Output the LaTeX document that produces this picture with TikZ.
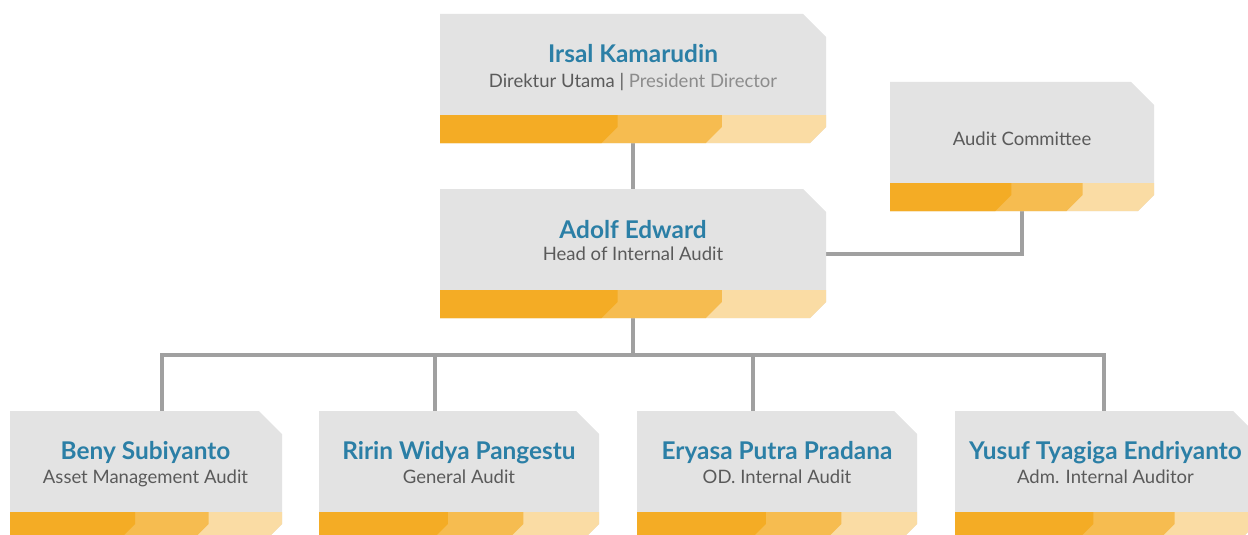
\documentclass[tikz,border=0pt]{standalone}
\usepackage{fontspec}
\setmainfont{Lato}
\definecolor{boxgray}{HTML}{E3E3E3}
\definecolor{ordark}{HTML}{F4AC25}
\definecolor{ormid}{HTML}{F6BC50}
\definecolor{orlight}{HTML}{FADCA4}
\definecolor{nameblue}{HTML}{2B7FA6}
\definecolor{subgray}{HTML}{5A5A5A}
\definecolor{lightsub}{HTML}{8C8C8C}
\definecolor{linegray}{HTML}{A0A0A0}
\newcommand\orgshape[4]{%
  \pgfmathsetmacro\xa{#1}\pgfmathsetmacro\ya{#2}%
  \pgfmathsetmacro\xb{#3}\pgfmathsetmacro\yb{#4}%
  \pgfmathsetmacro\xd{#1+0.46*(#3-#1)}%
  \pgfmathsetmacro\xm{#1+0.73*(#3-#1)}%
  \pgfmathsetmacro\yt{#4-28}%
  \fill[boxgray] (\xa,\ya) -- (\xb-23,\ya) -- (\xb,\ya+23) -- (\xb,\yb-16) -- (\xb-16,\yb) -- (\xa,\yb) -- cycle;
  \fill[orlight] (\xa,\yt) -- (\xb,\yt) -- (\xb,\yb-16) -- (\xb-16,\yb) -- (\xa,\yb) -- cycle;
  \fill[ormid] (\xa,\yt) -- (\xm,\yt) -- (\xm,\yb-16) -- (\xm-16,\yb) -- (\xa,\yb) -- cycle;
  \fill[ordark] (\xa,\yt) -- (\xd,\yt) -- (\xd,\yb-16) -- (\xd-16,\yb) -- (\xa,\yb) -- cycle;
}
\tikzset{
  area/.style={inner sep=0pt, outer sep=0pt, minimum width=#1, minimum height=129pt},
  nametext/.style={anchor=base, inner sep=0pt, text=nameblue, font=\fontsize{24.4}{28}\selectfont\bfseries},
  subtext/.style={anchor=base, inner sep=0pt, text=subgray, font=\fontsize{18.5}{22}\selectfont},
  conn/.style={draw=linegray, line width=4pt}
}
\begin{document}
\begin{tikzpicture}[x=1pt,y=-1pt]
\useasboundingbox (0,0) rectangle (1248,535);
\begin{scope}
\clip (0,0) rectangle (1248,535);
% placeholder nodes spanning the boxes
\node[area=386pt] (pd) at (633,78.5) {};
\node[area=386pt] (hia) at (633,253.5) {};
\node[area=264pt] (ac) at (1022,146.5) {};
\node[area=272pt] (b1) at (145.5,475.5) {};
\node[area=280pt] (b2) at (459,475.5) {};
\node[area=280pt] (b3) at (777,475.5) {};
\node[area=301pt] (b4) at (1105.5,475.5) {};
\coordinate (bar) at (633,355);
\coordinate (j1) at (162,355);
\coordinate (j2) at (435,355);
\coordinate (j3) at (753,355);
\coordinate (j4) at (1104,355);
% connectors
\draw[conn] (pd.south) -- (hia.north);
\draw[conn] (hia.south) -- (bar);
\draw[conn] (j1 |- b1.north) -- (j1) -- (j4) -- (j4 |- b4.north);
\draw[conn] (j2) -- (j2 |- b2.north);
\draw[conn] (j3) -- (j3 |- b3.north);
\draw[conn] (ac.south) |- (hia.east);
% boxes
\orgshape{440}{14}{826}{143}
\orgshape{440}{189}{826}{318}
\orgshape{890}{82}{1154}{211}
\orgshape{10}{411}{282}{540}
\orgshape{319}{411}{599}{540}
\orgshape{637}{411}{917}{540}
\orgshape{955}{411}{1256}{540}
% texts
\node[nametext] (pdn) at (633,63) {Irsal Kamarudin};
\node[subtext] (pds) at (633,88) {Direktur Utama | \textcolor{lightsub}{President Director}};
\node[nametext] (hian) at (633,238) {Adolf Edward};
\node[subtext] (hias) at (633,260) {Head of Internal Audit};
\node[subtext] (acs) at (1022,145) {Audit Committee};
\node[nametext] (b1n) at (145.5,459) {Beny Subiyanto};
\node[subtext] (b1s) at (145.5,483) {Asset Management Audit};
\node[nametext] (b2n) at (459,459) {Ririn Widya Pangestu};
\node[subtext] (b2s) at (459,483) {General Audit};
\node[nametext] (b3n) at (777,459) {Eryasa Putra Pradana};
\node[subtext] (b3s) at (777,483) {OD. Internal Audit};
\node[nametext] (b4n) at (1105.5,459) {Yusuf Tyagiga Endriyanto};
\node[subtext] (b4s) at (1105.5,483) {Adm. Internal Auditor};
\end{scope}
\end{tikzpicture}
\end{document}
